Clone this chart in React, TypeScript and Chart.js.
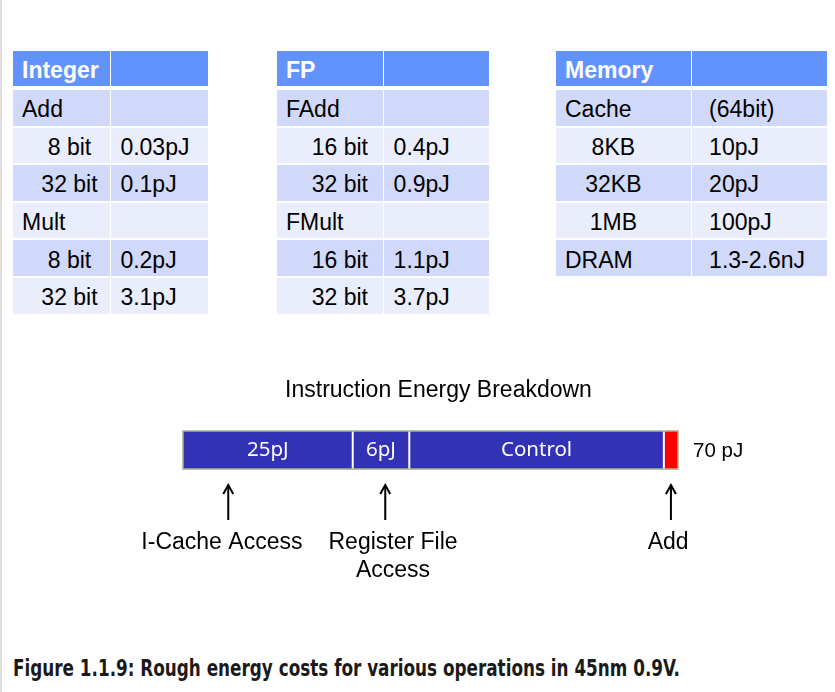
import React, { useEffect, useLayoutEffect, useRef } from 'react';
import { Chart, registerables } from 'chart.js';

Chart.register(...registerables);

// ---------- data ----------
const intTitle = 'Integer';
const intOps = ['Add', '8 bit', '32 bit', 'Mult', '8 bit', '32 bit'];
const intCosts = ['', '0.03pJ', '0.1pJ', '', '0.2pJ', '3.1pJ'];

const fpTitle = 'FP';
const fpOps = ['FAdd', '16 bit', '32 bit', 'FMult', '16 bit', '32 bit'];
const fpCosts = ['', '0.4pJ', '0.9pJ', '', '1.1pJ', '3.7pJ'];

const memTitle = 'Memory';
const memItems = ['Cache', '8KB', '32KB', '1MB', 'DRAM'];
const memCosts = ['(64bit)', '10pJ', '20pJ', '100pJ', '1.3-2.6nJ'];

const chartTitle = 'Instruction Energy Breakdown';
const segmentNames = ['I-Cache Access', 'Register File Access', 'Control', 'Add'];
const segmentValues = [24, 8, 36, 2];
const segmentTexts = ['25pJ', '6pJ', 'Control', ''];
const totalText = '70 pJ';
const axisMax = 70;
const arrowValues = [6.4, 28.6, 69];
const arrowLabelValues = [5.5, 29.7, 68.6];
const arrowLabels = [['I-Cache Access'], ['Register File', 'Access'], ['Add']];

const captionText = 'Figure 1.1.9: Rough energy costs for various operations in 45nm 0.9V.';

// ---------- styles ----------
const HEADER_BG = '#6292fb';
const ROW_DARK = '#d1d9fa';
const ROW_LIGHT = '#e9edfc';
const BAR_BLUE = '#3232b4';
const BAR_RED = '#ff0000';
const segmentColors = [BAR_BLUE, BAR_BLUE, BAR_BLUE, BAR_RED];
const ARIAL = '"Liberation Sans", Arial, sans-serif';

type TableProps = {
  left: number;
  col1: number;
  col2: number;
  title: string;
  labels: string[];
  values: string[];
  indentShift: number;
  valuePad: number;
};

function EnergyTable({ left, col1, col2, title, labels, values, indentShift, valuePad }: TableProps) {
  const HEAD_TOP = 51.3;
  const HEAD_H = 35;
  const ROW0 = 90;
  const PERIOD = 37.55;
  const ROW_H = 35.8;
  const GAP = 1.4;
  const x2 = left + col1 + GAP;
  const base: React.CSSProperties = {
    position: 'absolute',
    fontFamily: ARIAL,
    fontSize: 23,
    display: 'flex',
    alignItems: 'center',
    boxSizing: 'border-box',
    whiteSpace: 'nowrap',
    color: '#000',
    paddingTop: 4,
  };
  const cells: React.ReactNode[] = [];
  cells.push(
    <div key="h1" style={{ ...base, left, top: HEAD_TOP, width: col1, height: HEAD_H, background: HEADER_BG, color: '#fff', fontWeight: 'bold', paddingLeft: 9 }}>
      {title}
    </div>
  );
  cells.push(
    <div key="h2" style={{ ...base, left: x2, top: HEAD_TOP, width: col2, height: HEAD_H, background: HEADER_BG }} />
  );
  labels.forEach((lab, i) => {
    const top = ROW0 + PERIOD * i;
    const bg = i % 2 === 0 ? ROW_DARK : ROW_LIGHT;
    const indented = /^\d/.test(lab);
    cells.push(
      <div
        key={'a' + i}
        style={{
          ...base,
          left,
          top,
          width: col1,
          height: ROW_H,
          background: bg,
          justifyContent: indented ? 'center' : 'flex-start',
          paddingLeft: indented ? (indentShift > 0 ? indentShift * 2 : 0) : 9,
          paddingRight: indented && indentShift < 0 ? -indentShift * 2 : 0,
        }}
      >
        {lab}
      </div>
    );
    cells.push(
      <div key={'b' + i} style={{ ...base, left: x2, top, width: col2, height: ROW_H, background: bg, paddingLeft: valuePad }}>
        {values[i]}
      </div>
    );
  });
  return <>{cells}</>;
}

function Caption() {
  const ref = useRef<HTMLSpanElement>(null);
  useLayoutEffect(() => {
    const el = ref.current;
    if (!el) return;
    el.style.transform = 'none';
    const w = el.getBoundingClientRect().width;
    if (w > 0) el.style.transform = `scaleX(${667 / w})`;
  }, []);
  return (
    <div style={{ position: 'absolute', left: 13, top: 655, height: 26, lineHeight: '26px', whiteSpace: 'nowrap' }}>
      <span
        ref={ref}
        style={{
          display: 'inline-block',
          transformOrigin: 'left center',
          fontFamily: '"Liberation Sans Narrow", "DejaVu Sans Condensed", "Liberation Sans", sans-serif',
          fontWeight: 'bold',
          fontSize: 22.5,
          color: '#1a1a1a',
        }}
      >
        {captionText}
      </span>
    </div>
  );
}

const overlayPlugin = {
  id: 'energyOverlay',
  afterDatasetsDraw(chart: any) {
    const { ctx, chartArea: a, scales } = chart;
    const x = scales.x;
    const mid = (a.top + a.bottom) / 2;
    ctx.save();

    // separators
    ctx.strokeStyle = '#ffffff';
    ctx.lineWidth = 2;
    let cum = 0;
    for (let i = 0; i < segmentValues.length - 1; i++) {
      cum += segmentValues[i];
      const px = x.getPixelForValue(cum);
      ctx.beginPath();
      ctx.moveTo(px, a.top);
      ctx.lineTo(px, a.bottom);
      ctx.stroke();
    }

    // outer border
    const x0 = x.getPixelForValue(0);
    const x1 = x.getPixelForValue(axisMax);
    ctx.strokeStyle = '#a4b28c';
    ctx.lineWidth = 1.5;
    ctx.strokeRect(x0, a.top, x1 - x0, a.bottom - a.top);

    // segment texts
    ctx.font = '20.5px "Noto Sans", "Open Sans", sans-serif';
    ctx.fillStyle = '#ffffff';
    ctx.textAlign = 'center';
    ctx.textBaseline = 'middle';
    cum = 0;
    segmentValues.forEach((v, i) => {
      const cx = x.getPixelForValue(cum + v / 2);
      if (segmentTexts[i]) ctx.fillText(segmentTexts[i], cx, mid);
      cum += v;
    });

    // total
    ctx.font = '20.5px ' + ARIAL;
    ctx.fillStyle = '#000000';
    ctx.textAlign = 'left';
    ctx.fillText(totalText, a.right + 15, mid + 1);

    // title
    ctx.font = '23px ' + ARIAL;
    ctx.textAlign = 'center';
    ctx.fillText(chartTitle, (a.left + a.right) / 2 + 8, a.top - 40);

    // arrows
    ctx.strokeStyle = '#000000';
    ctx.lineWidth = 2;
    arrowValues.forEach((v) => {
      const px = x.getPixelForValue(v);
      const tip = a.bottom + 16;
      const tail = a.bottom + 51;
      ctx.beginPath();
      ctx.moveTo(px, tail);
      ctx.lineTo(px, tip + 1);
      ctx.stroke();
      ctx.beginPath();
      ctx.moveTo(px - 5, tip + 9);
      ctx.lineTo(px, tip);
      ctx.lineTo(px + 5, tip + 9);
      ctx.stroke();
    });

    // arrow labels
    ctx.font = '23px ' + ARIAL;
    ctx.fillStyle = '#000000';
    ctx.textAlign = 'center';
    arrowLabels.forEach((lines, i) => {
      const px = x.getPixelForValue(arrowLabelValues[i]);
      lines.forEach((t, j) => {
        ctx.fillText(t, px, a.bottom + 74 + j * 28);
      });
    });

    ctx.restore();
  },
};

function EnergyBar() {
  const ref = useRef<HTMLCanvasElement>(null);
  useEffect(() => {
    if (!ref.current) return;
    const chart = new Chart(ref.current, {
      type: 'bar',
      data: {
        labels: [''],
        datasets: segmentNames.map((name, i) => ({
          label: name,
          data: [segmentValues[i]],
          backgroundColor: segmentColors[i],
          borderWidth: 0,
          barPercentage: 1,
          categoryPercentage: 1,
        })),
      },
      options: {
        indexAxis: 'y',
        animation: false,
        responsive: false,
        layout: { padding: { left: 183, right: 157, top: 71, bottom: 131 } },
        scales: {
          x: { stacked: true, min: 0, max: axisMax, display: false },
          y: { stacked: true, display: false },
        },
        plugins: {
          legend: { display: false },
          tooltip: { enabled: false },
          title: { display: false },
        },
      },
      plugins: [overlayPlugin],
    } as any);
    return () => chart.destroy();
  }, []);
  return <canvas ref={ref} width={835} height={240} style={{ position: 'absolute', left: 0, top: 360 }} />;
}

export default function App() {
  return (
    <div style={{ position: 'absolute', left: 0, top: 0, width: 835, height: 692, background: '#fff', overflow: 'hidden' }}>
      <div style={{ position: 'absolute', left: 0, top: 0, width: 2, height: 692, background: '#dedede' }} />
      <EnergyTable left={13} col1={97} col2={96.7} title={intTitle} labels={intOps} values={intCosts} indentShift={8} valuePad={9} />
      <EnergyTable left={277} col1={105.7} col2={105} title={fpTitle} labels={fpOps} values={fpCosts} indentShift={10} valuePad={9.5} />
      <EnergyTable left={556} col1={134.7} col2={134.7} title={memTitle} labels={memItems} values={memCosts} indentShift={-10} valuePad={17} />
      <EnergyBar />
      <Caption />
    </div>
  );
}
